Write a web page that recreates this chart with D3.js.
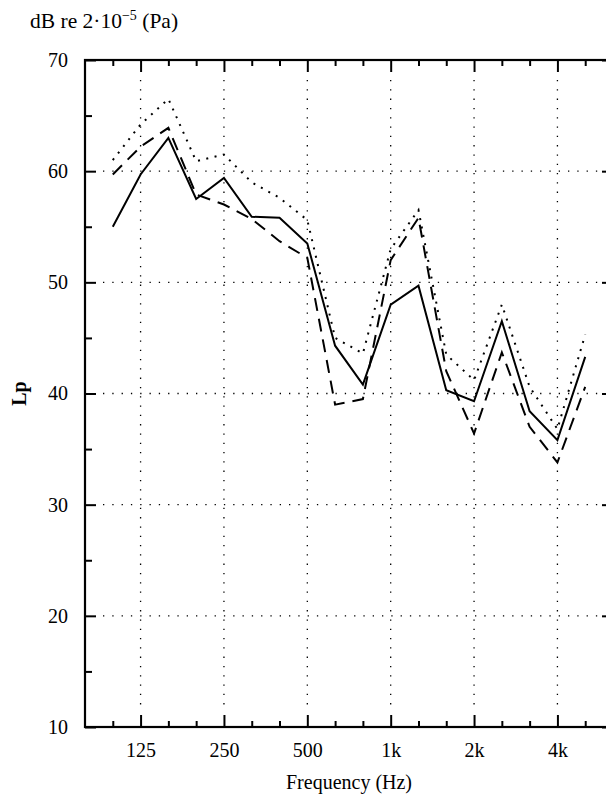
<!DOCTYPE html>
<html>
<head>
<meta charset="utf-8">
<script src="https://cdn.jsdelivr.net/npm/d3@7"></script>
<style>
	body { margin: 0; background: #fff; }
</style>
</head>
<body>
<svg width="606" height="794"></svg>
<script>
// Third-octave bands on the axis (80 Hz and 6.3k only fix the frame edges)
var axisBands = ["80", "100", "125", "160", "200", "250", "315", "400", "500", "630", "800",
	"1k", "1.25k", "1.6k", "2k", "2.5k", "3.15k", "4k", "5k", "6.3k"];
var dataBands = ["100", "125", "160", "200", "250", "315", "400", "500", "630", "800",
	"1k", "1.25k", "1.6k", "2k", "2.5k", "3.15k", "4k", "5k"];
var octaveLabels = ["125", "250", "500", "1k", "2k", "4k"];

// Sound pressure levels, dB re 2e-5 Pa
var solidLp  = [55.0, 59.7, 63.0, 57.5, 59.4, 55.9, 55.8, 53.5, 44.3, 40.8,
	48.0, 49.7, 40.3, 39.3, 46.5, 38.4, 35.8, 43.3];
var dashedLp = [59.7, 62.2, 63.9, 57.9, 57.0, 55.7, 53.7, 52.2, 39.0, 39.5,
	52.0, 55.8, 42.0, 36.4, 43.7, 37.0, 33.8, 40.6];
var dottedLp = [61.0, 64.2, 66.5, 60.9, 61.5, 59.0, 57.6, 55.6, 45.0, 43.6,
	53.0, 56.5, 43.5, 41.2, 48.0, 40.6, 36.8, 45.3];

var yMajor = [10, 20, 30, 40, 50, 60, 70];
var yMinor = [15, 25, 35, 45, 55, 65];
var yGrid = [20, 30, 40, 50, 60];

// Plot frame
var LEFT = 85, RIGHT = 613, TOP = 60, BOTTOM = 727;
var MAJOR_TICK = 12, MINOR_TICK = 6;
var FONT = "'Liberation Serif', 'Times New Roman', 'DejaVu Serif', serif";

var svg = d3.select("svg");

var x = d3.scalePoint()
	.domain(axisBands)
	.range([LEFT, RIGHT]);

var y = d3.scaleLinear()
	.domain([10, 70])
	.range([BOTTOM, TOP]);

var minorBands = axisBands.filter(b => octaveLabels.indexOf(b) < 0 && b != "80" && b != "6.3k");

// Grid, dotted, stopping at the tick ends
var grid = svg.append("g").attr("class", "grid")
	.attr("stroke", "#000")
	.attr("stroke-width", 1.3)
	.attr("stroke-dasharray", "1.3,8");

grid.selectAll("line.v")
	.data(octaveLabels)
	.enter().append("line")
	.attr("class", "v")
	.attr("x1", d => x(d)).attr("x2", d => x(d))
	.attr("y1", TOP + MAJOR_TICK + 8).attr("y2", BOTTOM - MAJOR_TICK - 4);

grid.selectAll("line.h")
	.data(yGrid)
	.enter().append("line")
	.attr("class", "h")
	.attr("x1", LEFT + MAJOR_TICK + 6).attr("x2", RIGHT - MAJOR_TICK)
	.attr("y1", d => y(d)).attr("y2", d => y(d));

// Axes with inward ticks
function styleAxis(sel) {
	sel.attr("font-family", FONT);
	sel.select(".domain").remove();
	sel.selectAll("line").attr("stroke", "#000").attr("stroke-width", 2);
	sel.selectAll("text")
		.attr("font-size", 20)
		.style("font-family", FONT);
}

svg.append("g")
	.attr("transform", "translate(0," + BOTTOM + ")")
	.call(d3.axisBottom(x).tickValues(octaveLabels).tickSizeInner(-MAJOR_TICK).tickSizeOuter(0).tickPadding(16))
	.call(styleAxis);
svg.append("g")
	.attr("transform", "translate(0," + BOTTOM + ")")
	.call(d3.axisBottom(x).tickValues(minorBands).tickSizeInner(-MINOR_TICK).tickSizeOuter(0).tickFormat(""))
	.call(styleAxis);
svg.append("g")
	.attr("transform", "translate(0," + TOP + ")")
	.call(d3.axisTop(x).tickValues(octaveLabels).tickSizeInner(-MAJOR_TICK).tickSizeOuter(0).tickFormat(""))
	.call(styleAxis);
svg.append("g")
	.attr("transform", "translate(0," + TOP + ")")
	.call(d3.axisTop(x).tickValues(minorBands).tickSizeInner(-MINOR_TICK).tickSizeOuter(0).tickFormat(""))
	.call(styleAxis);

svg.append("g")
	.attr("transform", "translate(" + LEFT + ",0)")
	.call(d3.axisLeft(y).tickValues(yMajor).tickSizeInner(-11).tickSizeOuter(0).tickPadding(17).tickFormat(d3.format("d")))
	.call(styleAxis);
svg.append("g")
	.attr("transform", "translate(" + LEFT + ",0)")
	.call(d3.axisLeft(y).tickValues(yMinor).tickSizeInner(-7).tickSizeOuter(0).tickFormat(""))
	.call(styleAxis);
svg.append("g")
	.attr("transform", "translate(" + RIGHT + ",0)")
	.call(d3.axisRight(y).tickValues(yMajor).tickSizeInner(-11).tickSizeOuter(0).tickFormat(""))
	.call(styleAxis);
svg.append("g")
	.attr("transform", "translate(" + RIGHT + ",0)")
	.call(d3.axisRight(y).tickValues(yMinor).tickSizeInner(-7).tickSizeOuter(0).tickFormat(""))
	.call(styleAxis);

// Frame
svg.append("rect")
	.attr("x", LEFT).attr("y", TOP)
	.attr("width", RIGHT - LEFT).attr("height", BOTTOM - TOP)
	.attr("fill", "none")
	.attr("stroke", "#000")
	.attr("stroke-width", 2.2);

// Series
var line = d3.line()
	.x((d, i) => x(dataBands[i]))
	.y(d => y(d));

var series = [
	{ values: dottedLp, dash: "2,6.5" },
	{ values: dashedLp, dash: "13,8" },
	{ values: solidLp, dash: null }
];

svg.append("g").attr("class", "series")
	.selectAll("path")
	.data(series)
	.enter().append("path")
	.attr("d", d => line(d.values))
	.attr("fill", "none")
	.attr("stroke", "#000")
	.attr("stroke-width", 2)
	.attr("stroke-dasharray", d => d.dash);

// Labels
var title = svg.append("text")
	.attr("x", 30).attr("y", 28)
	.attr("font-size", 21.5)
	.style("font-family", FONT);
title.append("tspan").text("dB re 2\u00b710");
title.append("tspan").attr("dy", -8).attr("font-size", 14).text("\u22125");
title.append("tspan").attr("dy", 8).text(" (Pa)");

svg.append("text")
	.attr("x", (LEFT + RIGHT) / 2).attr("y", 789)
	.attr("text-anchor", "middle")
	.attr("font-size", 20)
	.style("font-family", FONT)
	.text("Frequency (Hz)");

svg.append("text")
	.attr("transform", "translate(26," + (TOP + BOTTOM) / 2 + ") rotate(-90)")
	.attr("text-anchor", "middle")
	.attr("font-size", 20)
	.attr("font-weight", "bold")
	.style("font-family", FONT)
	.text("Lp");
</script>
</body>
</html>
